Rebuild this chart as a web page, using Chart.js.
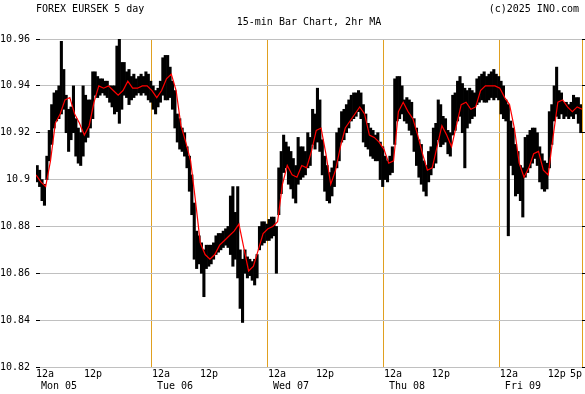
<!DOCTYPE html>
<html><head><meta charset="utf-8">
<script src="https://cdn.jsdelivr.net/npm/chart.js@4/dist/chart.umd.min.js"></script>
<style>html,body{margin:0;padding:0;background:#fff;}canvas{display:block;}</style>
</head><body>
<canvas id="c" width="585" height="394"></canvas>
<script>
// ---- data (30-minute high/low bars) ----
const titleText = 'FOREX EURSEK 5 day';
const subtitleText = '15-min Bar Chart, 2hr MA';
const copyrightText = '(c)2025 INO.com';
const totalHours = 113;          // Mon 00:00 -> Fri 17:00
const barStepHours = 0.5;

const barLows = [
10.899,10.897,10.891,10.889,10.900,10.908,10.915,10.922,10.925,10.926,10.928,10.930,
10.920,10.912,10.917,10.920,10.910,10.907,10.906,10.910,10.916,10.918,10.922,10.926,
10.936,10.935,10.936,10.937,10.936,10.935,10.933,10.931,10.928,10.929,10.924,10.930,
10.936,10.935,10.932,10.934,10.935,10.936,10.937,10.936,10.937,10.936,10.934,10.933,
10.930,10.928,10.931,10.933,10.936,10.934,10.934,10.935,10.930,10.922,10.916,10.913,
10.912,10.910,10.905,10.895,10.885,10.866,10.862,10.864,10.860,10.850,10.862,10.863,
10.864,10.866,10.868,10.869,10.870,10.871,10.872,10.871,10.868,10.863,10.866,10.858,
10.845,10.839,10.860,10.858,10.859,10.857,10.855,10.858,10.870,10.872,10.873,10.874,
10.874,10.875,10.876,10.860,10.885,10.894,10.903,10.905,10.898,10.896,10.892,10.890,
10.898,10.900,10.901,10.902,10.905,10.906,10.915,10.913,10.916,10.912,10.902,10.895,
10.891,10.890,10.893,10.897,10.905,10.908,10.916,10.917,10.920,10.922,10.925,10.926,
10.927,10.929,10.926,10.916,10.914,10.913,10.910,10.909,10.908,10.908,10.900,10.897,
10.900,10.899,10.902,10.903,10.915,10.925,10.926,10.928,10.925,10.924,10.921,10.919,
10.912,10.906,10.901,10.898,10.895,10.893,10.899,10.902,10.905,10.907,10.917,10.914,
10.915,10.916,10.911,10.910,10.919,10.921,10.925,10.927,10.920,10.905,10.922,10.924,
10.926,10.927,10.932,10.933,10.934,10.933,10.933,10.934,10.935,10.934,10.935,10.934,
10.928,10.926,10.925,10.876,10.906,10.902,10.893,10.894,10.891,10.884,10.901,10.903,
10.905,10.907,10.909,10.906,10.899,10.896,10.895,10.896,10.905,10.915,10.925,10.927,
10.926,10.928,10.926,10.927,10.926,10.927,10.926,10.928,10.924,10.920
];
const barHighs = [
10.906,10.904,10.900,10.898,10.910,10.921,10.932,10.937,10.938,10.940,10.959,10.947,
10.936,10.930,10.931,10.940,10.926,10.922,10.920,10.940,10.936,10.934,10.934,10.946,
10.946,10.944,10.943,10.943,10.942,10.942,10.940,10.940,10.940,10.957,10.960,10.950,
10.950,10.946,10.947,10.944,10.945,10.943,10.944,10.945,10.944,10.946,10.945,10.942,
10.940,10.938,10.939,10.942,10.952,10.953,10.953,10.948,10.942,10.938,10.928,10.926,
10.922,10.920,10.914,10.910,10.902,10.890,10.878,10.876,10.873,10.870,10.872,10.872,
10.872,10.873,10.876,10.877,10.877,10.878,10.879,10.880,10.893,10.897,10.886,10.897,
10.870,10.866,10.870,10.867,10.866,10.865,10.866,10.868,10.880,10.882,10.882,10.881,
10.883,10.884,10.884,10.880,10.905,10.912,10.919,10.916,10.914,10.912,10.909,10.906,
10.918,10.914,10.914,10.912,10.920,10.918,10.930,10.928,10.939,10.934,10.917,10.910,
10.906,10.903,10.905,10.908,10.920,10.922,10.929,10.930,10.932,10.934,10.936,10.937,
10.937,10.938,10.937,10.932,10.928,10.924,10.922,10.921,10.919,10.920,10.916,10.914,
10.910,10.908,10.910,10.914,10.943,10.944,10.944,10.940,10.934,10.935,10.934,10.933,
10.926,10.922,10.917,10.915,10.908,10.906,10.912,10.914,10.922,10.924,10.934,10.932,
10.927,10.926,10.921,10.920,10.936,10.937,10.942,10.944,10.941,10.939,10.938,10.939,
10.938,10.937,10.943,10.944,10.945,10.946,10.944,10.945,10.946,10.947,10.945,10.944,
10.942,10.940,10.934,10.932,10.925,10.922,10.915,10.912,10.906,10.905,10.918,10.919,
10.921,10.922,10.922,10.920,10.914,10.911,10.908,10.907,10.929,10.932,10.940,10.948,
10.938,10.937,10.933,10.933,10.932,10.933,10.936,10.935,10.935,10.932
];
// 2hr moving average, hourly readings (hour 0 .. 113)
const maValues = [
10.902,10.899,10.897,10.908,10.924,10.928,10.934,10.935,10.928,10.924,10.919,10.923,
10.933,10.940,10.939,10.940,10.938,10.936,10.938,10.942,10.939,10.939,10.940,10.940,
10.938,10.935,10.938,10.943,10.945,10.938,10.923,10.916,10.908,10.891,10.873,10.868,
10.866,10.868,10.872,10.874,10.876,10.878,10.881,10.871,10.861,10.863,10.870,10.877,
10.879,10.880,10.882,10.898,10.906,10.902,10.901,10.906,10.905,10.912,10.921,10.922,
10.911,10.898,10.904,10.914,10.922,10.925,10.928,10.931,10.928,10.919,10.918,10.916,
10.913,10.907,10.908,10.929,10.933,10.929,10.926,10.919,10.911,10.904,10.905,10.914,
10.923,10.919,10.914,10.923,10.932,10.933,10.930,10.931,10.938,10.940,10.940,10.940,
10.939,10.935,10.932,10.922,10.907,10.901,10.905,10.911,10.912,10.904,10.902,10.918,
10.933,10.934,10.931,10.929,10.931,10.930
];

const yTickValues = [10.82,10.84,10.86,10.88,10.90,10.92,10.94,10.96];
const yTickLabels = ['10.82','10.84','10.86','10.88','10.9','10.92','10.94','10.96'];
const midnightHours = [0,24,48,72,96];
const midnightLabels = ['12a','12a','12a','12a','12a'];
const noonHours = [12,36,60,84,108];
const noonLabels = ['12p','12p','12p','12p','12p'];
const lastHours = [113];
const lastLabels = ['5p'];
const dayHours = [0,24,48,72,96];
const dayLabels = ['Mon 05','Tue 06','Wed 07','Thu 08','Fri 09'];
const separatorHours = [24,48,72,96,113];

// ---- styling ----
const FAM = '"DejaVu Sans Mono", monospace';
const FONT = {family: FAM, size: 10, weight: 'normal', lineHeight: 1.2};
const GRID_GRAY = '#c0c0c0';
const SEP_ORANGE = '#e0a020';

Chart.defaults.font.family = FAM;
Chart.defaults.font.size = 10;
Chart.defaults.color = '#000';

function labelAxis(values, labels, weight, align, offset, height) {
  return {
    type: 'linear', position: 'bottom', min: 0, max: totalHours, bounds: 'data',
    offset: false, weight: weight,
    grid: {display: false, drawTicks: false},
    border: {display: false},
    ticks: {autoSkip: false, maxRotation: 0, minRotation: 0, align: align,
      labelOffset: offset, padding: 1, color: '#000', font: FONT,
      callback: (v, i) => labels[i]},
    afterBuildTicks: s => { s.ticks = values.map(v => ({value: v})); },
    afterFit: s => { s.height = height; s.paddingLeft = 0; s.paddingRight = 0; }
  };
}

// the 12p and 5p label axes share the row of the 12a labels
const sharedRowPlugin = {
  id: 'sharedRow',
  afterLayout(chart) {
    const row = chart.scales.xMid;
    ['xNoon', 'xLast'].forEach(id => {
      const s = chart.scales[id];
      s.top = row.top; s.bottom = row.bottom; s.height = row.bottom - row.top;
    });
  }
};

const copyrightPlugin = {
  id: 'copyright',
  afterDraw(chart) {
    const ctx = chart.ctx;
    ctx.save();
    ctx.font = '10px ' + FAM;
    ctx.fillStyle = '#000';
    ctx.textAlign = 'right';
    ctx.textBaseline = 'middle';
    ctx.fillText(copyrightText, 579, 9);
    ctx.restore();
  }
};

new Chart(document.getElementById('c'), {
  type: 'bar',
  data: {
    datasets: [
      {type: 'line', label: '2hr MA', data: maValues.map((v, i) => ({x: i, y: v})),
       borderColor: '#ff0000', borderWidth: 1.2, pointRadius: 0, tension: 0,
       order: 0, xAxisID: 'x', yAxisID: 'y'},
      {type: 'bar', label: 'EURSEK',
       data: barLows.map((lo, i) => ({x: i * barStepHours + barStepHours / 2, y: [lo, barHighs[i]]})),
       backgroundColor: '#000', borderWidth: 0, barPercentage: 1, categoryPercentage: 1,
       order: 1, xAxisID: 'x', yAxisID: 'y'}
    ]
  },
  options: {
    responsive: false, animation: false, events: [],
    layout: {padding: 0},
    plugins: {
      legend: {display: false}, tooltip: {enabled: false},
      title: {display: true, text: titleText, align: 'start', fullSize: false, color: '#000',
        font: FONT, padding: {top: 3, bottom: 0}},
      subtitle: {display: true, text: subtitleText, align: 'center', fullSize: false, color: '#000',
        font: FONT, padding: {top: 1, bottom: 11}}
    },
    scales: {
      x: {type: 'linear', position: 'bottom', min: 0, max: totalHours, bounds: 'data',
        offset: false, weight: 0, z: 1,
        grid: {color: SEP_ORANGE, lineWidth: 1, drawTicks: false, offset: false},
        border: {display: false},
        ticks: {display: false},
        afterBuildTicks: s => { s.ticks = separatorHours.map(v => ({value: v})); },
        afterFit: s => { s.height = 0; s.paddingLeft = 0; s.paddingRight = 0; }},
      xNoon: labelAxis(noonHours, noonLabels, 1, 'center', -1, 0),
      xLast: labelAxis(lastHours, lastLabels, 2, 'end', 0, 0),
      xMid: labelAxis(midnightHours, midnightLabels, 3, 'start', 0, 12),
      xDay: labelAxis(dayHours, dayLabels, 4, 'start', 5, 15),
      y: {type: 'linear', position: 'left', min: 10.82, max: 10.96, bounds: 'data', beginAtZero: false,
        grid: {color: GRID_GRAY, lineWidth: 1, drawTicks: true, tickLength: -4, tickColor: '#000', tickWidth: 1},
        border: {display: false},
        ticks: {padding: 10, color: '#000', font: FONT, autoSkip: false,
          callback: (v, i) => yTickLabels[i]},
        afterBuildTicks: s => { s.ticks = yTickValues.map(v => ({value: v})); },
        afterFit: s => { s.width = 36; s.paddingTop = 0; s.paddingBottom = 0; }},
      yR: {type: 'linear', position: 'right', min: 10.82, max: 10.96, bounds: 'data', beginAtZero: false,
        grid: {drawOnChartArea: false, drawTicks: true, tickLength: 3, tickColor: '#000', tickWidth: 1},
        border: {display: false},
        ticks: {display: false},
        afterBuildTicks: s => { s.ticks = yTickValues.map(v => ({value: v})); },
        afterFit: s => { s.width = 3; s.paddingTop = 0; s.paddingBottom = 0; }}
    }
  },
  plugins: [sharedRowPlugin, copyrightPlugin]
});
</script>
</body></html>
